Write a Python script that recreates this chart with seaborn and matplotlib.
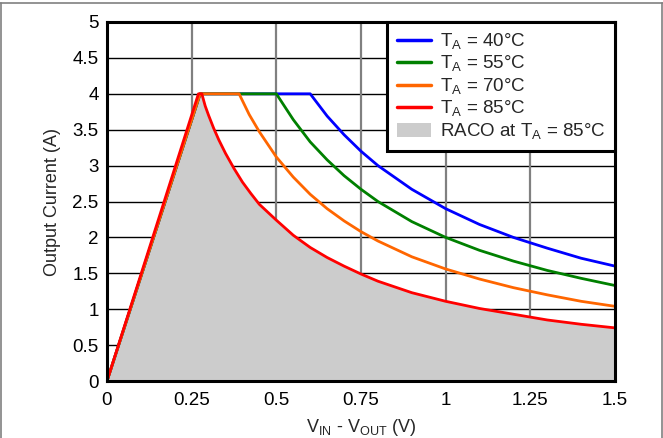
import matplotlib
matplotlib.use("Agg")
import matplotlib.pyplot as plt
import seaborn as sns
import pandas as pd
from matplotlib.lines import Line2D
from matplotlib.patches import Patch

# ---- data ----
x_40 = [0, 0.275, 0.6, 0.65, 0.7, 0.75, 0.8, 0.9, 1.0, 1.1, 1.2, 1.3, 1.4, 1.5]
y_40 = [0, 4.0, 4.0, 3.69, 3.43, 3.2, 3.0, 2.67, 2.4, 2.18, 2.0, 1.85, 1.71, 1.6]

x_55 = [0, 0.275, 0.5, 0.55, 0.6, 0.65, 0.7, 0.75, 0.8, 0.9, 1.0, 1.1, 1.2, 1.3, 1.4, 1.5]
y_55 = [0, 4.0, 4.0, 3.64, 3.33, 3.08, 2.86, 2.67, 2.5, 2.22, 2.0, 1.82, 1.67, 1.54, 1.43, 1.33]

x_70 = [0, 0.275, 0.39, 0.42, 0.45, 0.5, 0.55, 0.6, 0.65, 0.7, 0.75, 0.8, 0.9, 1.0, 1.1, 1.2, 1.3, 1.4, 1.5]
y_70 = [0, 4.0, 4.0, 3.71, 3.47, 3.12, 2.84, 2.6, 2.4, 2.23, 2.08, 1.95, 1.73, 1.56, 1.42, 1.3, 1.2, 1.11, 1.04]

x_85 = [0, 0.27, 0.28, 0.29, 0.3, 0.315, 0.33, 0.35, 0.375, 0.4, 0.425, 0.45, 0.5, 0.55, 0.6, 0.65, 0.7,
        0.75, 0.8, 0.9, 1.0, 1.1, 1.2, 1.3, 1.4, 1.5]
y_85 = [0, 4.0, 4.0, 3.83, 3.7, 3.52, 3.36, 3.17, 2.96, 2.77, 2.61, 2.46, 2.24, 2.03, 1.86, 1.72, 1.6,
        1.49, 1.39, 1.23, 1.11, 1.01, 0.93, 0.85, 0.79, 0.74]

labels = [r'T$_\mathregular{A}$ = 40°C', r'T$_\mathregular{A}$ = 55°C',
          r'T$_\mathregular{A}$ = 70°C', r'T$_\mathregular{A}$ = 85°C']
fill_label = r'RACO at T$_\mathregular{A}$ = 85°C'
colors = ['#0000ff', '#008000', '#ff6600', '#ff0000']
x_ticks = [0, 0.25, 0.5, 0.75, 1, 1.25, 1.5]
x_ticklabels = ['0', '0.25', '0.5', '0.75', '1', '1.25', '1.5']
y_ticks = [0, 0.5, 1, 1.5, 2, 2.5, 3, 3.5, 4, 4.5, 5]
y_ticklabels = ['0', '0.5', '1', '1.5', '2', '2.5', '3', '3.5', '4', '4.5', '5']

sns.set_theme(style="white")
plt.rcParams['font.family'] = ['Liberation Sans', 'DejaVu Sans']
plt.rcParams['mathtext.fontset'] = 'custom'
plt.rcParams['mathtext.rm'] = 'Liberation Sans'

fig = plt.figure(figsize=(6.63, 4.38), dpi=100)
ax = fig.add_axes([107/663, 57/438, 508/663, 359/438])

# grid
for yv in y_ticks[1:-1]:
    ax.axhline(yv, color='black', lw=1.0, zorder=0.5)
for xv in x_ticks[1:-1]:
    ax.axvline(xv, color='#808080', lw=1.6, zorder=0.5)

ax.fill_between(x_85, y_85, 0, color='#cccccc', lw=0, zorder=1)

series = [(x_40, y_40), (x_55, y_55), (x_70, y_70), (x_85, y_85)]
for (xs, ys), lab, c in zip(series, labels, colors):
    df = pd.DataFrame({'x': xs, 'y': ys})
    sns.lineplot(data=df, x='x', y='y', sort=False, estimator=None, color=c, lw=2.0, ax=ax, zorder=2)

ax.set_xlim(0, 1.5)
ax.set_ylim(0, 5)
ax.set_xticks(x_ticks)
ax.set_xticklabels(x_ticklabels)
ax.set_yticks(y_ticks)
ax.set_yticklabels(y_ticklabels)
ax.tick_params(length=0, labelsize=13.5, colors='black')
ax.tick_params(axis='x', pad=8)
ax.tick_params(axis='y', pad=6)
ax.set_xlabel(r'V$_\mathregular{IN}$ - V$_\mathregular{OUT}$ (V)', fontsize=13, labelpad=6)
ax.set_ylabel('Output Current (A)', fontsize=13, labelpad=8)
for s in ax.spines.values():
    s.set_color('black')
    s.set_linewidth(2.2)
    s.set_zorder(5)

handles = [Line2D([0], [0], color=c, lw=2.5) for c in colors] + [Patch(facecolor='#cccccc', edgecolor='none')]
leg = ax.legend(handles, labels + [fill_label], loc='upper right', bbox_to_anchor=(1.0, 1.0),
                borderaxespad=0, fontsize=13.5, frameon=True, fancybox=False,
                handlelength=1.85, handletextpad=0.45, labelspacing=0.12, borderpad=0.5)
leg.get_frame().set_edgecolor('black')
leg.get_frame().set_linewidth(2.2)
leg.get_frame().set_facecolor('white')
leg.get_frame().set_alpha(1)
leg.set_zorder(10)

# figure border lines (top, left, right)
fig.add_artist(Line2D([0, 1], [1 - 3/438, 1 - 3/438], color='#808080', lw=1.2, transform=fig.transFigure))
fig.add_artist(Line2D([0.5/663, 0.5/663], [0, 1 - 3/438], color='#808080', lw=1.2, transform=fig.transFigure))
fig.add_artist(Line2D([1 - 1/663, 1 - 1/663], [0, 1 - 3/438], color='#808080', lw=1.2, transform=fig.transFigure))

fig.savefig('out.png', dpi=100)
